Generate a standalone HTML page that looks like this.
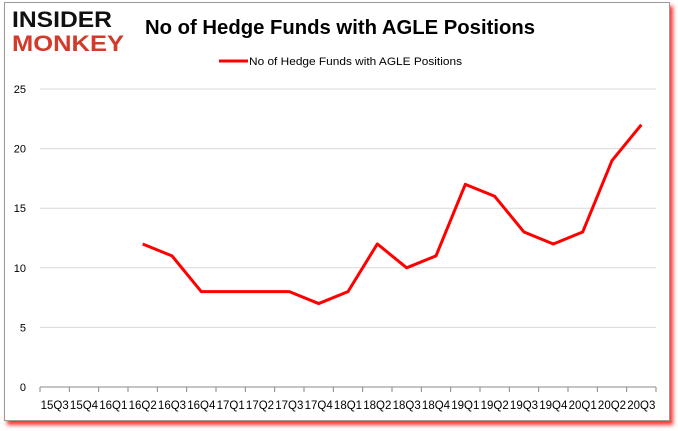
<!DOCTYPE html>
<html><head><meta charset="utf-8"><style>
body{margin:0;background:#fff;width:678px;height:431px;overflow:hidden;font-family:"Liberation Sans",sans-serif}
#frame{position:absolute;left:4px;top:2px;width:664px;height:417px;border:1px solid #999;background:#fff;box-shadow:3px 4px 4px #f33}
</style></head><body>
<div id="frame"></div>
<svg id="c" width="678" height="431" style="position:absolute;left:0;top:0">
<text x="12" y="27" font-size="22" font-weight="bold" fill="#111" font-family="Liberation Sans" textLength="100" lengthAdjust="spacingAndGlyphs">INSIDER</text>
<text x="12" y="51" font-size="22" font-weight="bold" fill="#d33a2a" font-family="Liberation Sans" textLength="112" lengthAdjust="spacingAndGlyphs">MONKEY</text>
<text x="340" y="34" font-size="20" font-weight="bold" text-anchor="middle" fill="#000" textLength="390" lengthAdjust="spacingAndGlyphs">No of Hedge Funds with AGLE Positions</text>
<line x1="219" y1="61" x2="248" y2="61" stroke="#f00" stroke-width="3"/>
<text x="249" y="65" font-size="11" fill="#000" textLength="213" lengthAdjust="spacingAndGlyphs">No of Hedge Funds with AGLE Positions</text>
<g id="grid"></g><g id="axes"></g>
<polyline id="line" fill="none" stroke="#f00" stroke-width="3" stroke-linejoin="round"/>
</svg>
<script>
const categories=["15Q3","15Q4","16Q1","16Q2","16Q3","16Q4","17Q1","17Q2","17Q3","17Q4","18Q1","18Q2","18Q3","18Q4","19Q1","19Q2","19Q3","19Q4","20Q1","20Q2","20Q3"];
const values=[null,null,null,12,11,8,8,8,8,7,8,12,10,11,17,16,13,12,13,19,22];
const yTicks=[0,5,10,15,20,25];
const NS="http://www.w3.org/2000/svg";
const x0=40,x1=656,yb=387,yt=89,ymax=25;
const step=(x1-x0)/categories.length;
const xs=i=>x0+(i+0.5)*step;
const ys=v=>yb-(v/ymax)*(yb-yt);
const grid=document.getElementById('grid'),axes=document.getElementById('axes');
function mk(t,a,p){const e=document.createElementNS(NS,t);for(const k in a)e.setAttribute(k,a[k]);p.appendChild(e);return e;}
yTicks.forEach(v=>{
 const g=mk('line',{x1:x0,x2:x1,y1:ys(v),y2:ys(v),stroke:v?'#d9d9d9':'#888','stroke-width':1},grid);
 
 
 const t=mk('text',{x:26,y:ys(v)+4,'font-size':11,'text-anchor':'end',fill:'#000'},axes);
 t.textContent=v;
 
 
});
categories.forEach((c,i)=>{
 const tk=mk('line',{x1:x0+i*step,x2:x0+i*step,y1:yb,y2:yb+5,stroke:'#888'},axes);
 
 
 const t=mk('text',{x:xs(i),y:409,'font-size':11.5,'text-anchor':'middle',fill:'#000'},axes);
 t.textContent=c;
 
 
});
mk('line',{x1:x1,x2:x1,y1:yb,y2:yb+5,stroke:'#888'},axes);
const pts=[];values.forEach((v,i)=>{if(v!==null)pts.push(xs(i)+','+ys(v));});
document.getElementById('line').setAttribute('points',pts.join(' '));
</script>
</body></html>
